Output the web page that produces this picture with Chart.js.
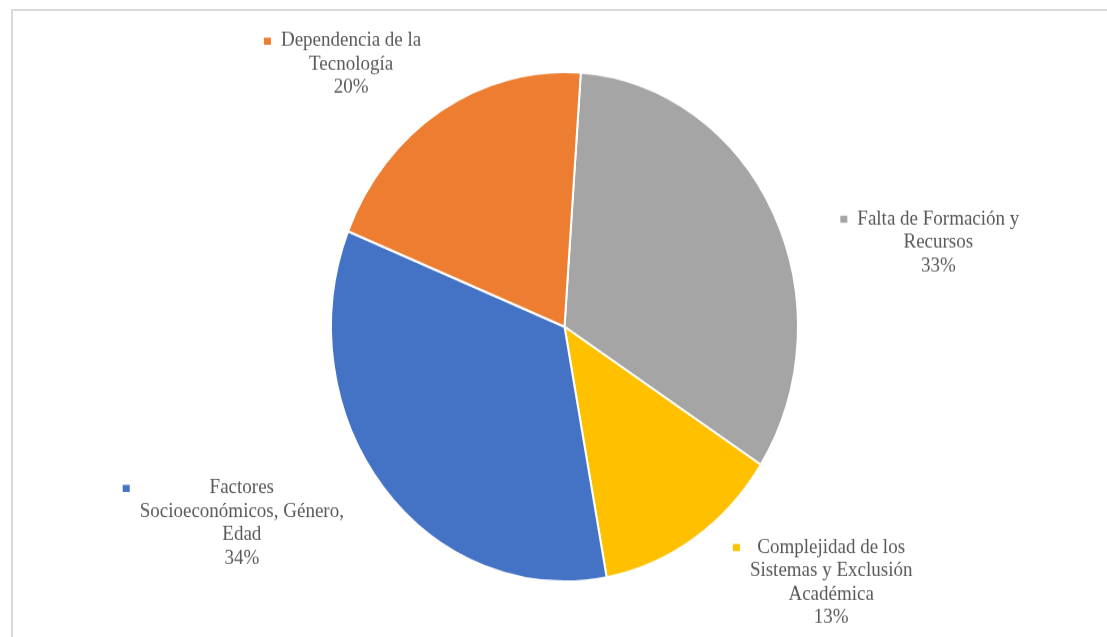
<!DOCTYPE html>
<html lang="es">
<head>
    <meta charset="UTF-8">
    <title>Gráfico circular</title>
    <script src="https://cdn.jsdelivr.net/npm/chart.js"></script>
    <style>
        body { margin: 0; background: #ffffff; }
        #frame {
            position: absolute; left: 11px; top: 9px; right: 0; bottom: 0;
            border-top: 2px solid #d9d9d9; border-left: 2px solid #d9d9d9;
        }
        /* the original picture is a bit stretched vertically */
        #wrap {
            position: absolute; left: 0; top: 0; width: 1107px; height: 584px;
            transform: scaleY(1.0908); transform-origin: 0 0;
        }
    </style>
</head>
<body>
  <div id="frame"></div>
  <div id="wrap">
    <canvas id="chartPie" width="1107" height="584"></canvas>
  </div>

  <script>
    // Datos (orden en sentido horario desde arriba)
    var categories = [
        ['Falta de Formación y', 'Recursos'],
        ['Complejidad de los', 'Sistemas y Exclusión', 'Académica'],
        ['Factores', 'Socioeconómicos, Género,', 'Edad'],
        ['Dependencia de la', 'Tecnología']
    ];
    var values = [33, 13, 34, 20];
    var percentLabels = ['33%', '13%', '34%', '20%'];
    var colors = ['#a5a5a5', '#ffc000', '#4472c4', '#ed7d31'];

    // posicion de cada etiqueta, relativa al centro (en radios)
    var labelOffsets = [[1.601, -0.331], [1.142, 1.004], [-1.382, 0.772], [-0.914, -1.03]];

    var pieLabels = {
        id: 'pieLabels',
        afterDraw: function(chart) {
            var ctx = chart.ctx;
            var arcs = chart.getDatasetMeta(0).data;
            var lh = 21.5;
            ctx.save();
            ctx.font = '19px "Liberation Serif", "Times New Roman", serif';
            ctx.fillStyle = '#595959';
            ctx.textAlign = 'center';
            ctx.textBaseline = 'middle';
            arcs.forEach(function(arc, i) {
                var lines = categories[i].concat([percentLabels[i]]);
                var cx = arc.x + labelOffsets[i][0] * arc.outerRadius;
                var cy = arc.y + labelOffsets[i][1] * arc.outerRadius;
                var maxW = 0;
                lines.forEach(function(t) { maxW = Math.max(maxW, ctx.measureText(t).width); });
                var y0 = cy - (lines.length - 1) * lh / 2;
                lines.forEach(function(t, k) {
                    ctx.fillText(t, cx, y0 + k * lh);
                });
                // cuadro de leyenda
                ctx.fillStyle = colors[i];
                ctx.fillRect(cx - maxW / 2 - 17, y0 - 3, 7, 6.5);
                ctx.fillStyle = '#595959';
            });
            ctx.restore();
        }
    };

    var ctxPie = document.getElementById('chartPie').getContext('2d');
    var chartPie = new Chart(ctxPie, {
        type: 'pie',
        data: {
            labels: categories.map(function(c) { return c.join(' '); }),
            datasets: [{
                data: values,
                backgroundColor: colors,
                borderColor: '#ffffff',
                borderWidth: 2
            }]
        },
        options: {
            responsive: false,
            animation: false,
            rotation: 4,
            layout: {
                padding: { left: 330, right: 308, top: 65, bottom: 50 }
            },
            plugins: {
                legend: { display: false },
                tooltip: { enabled: false }
            }
        },
        plugins: [pieLabels]
    });
  </script>

</body>
</html>
